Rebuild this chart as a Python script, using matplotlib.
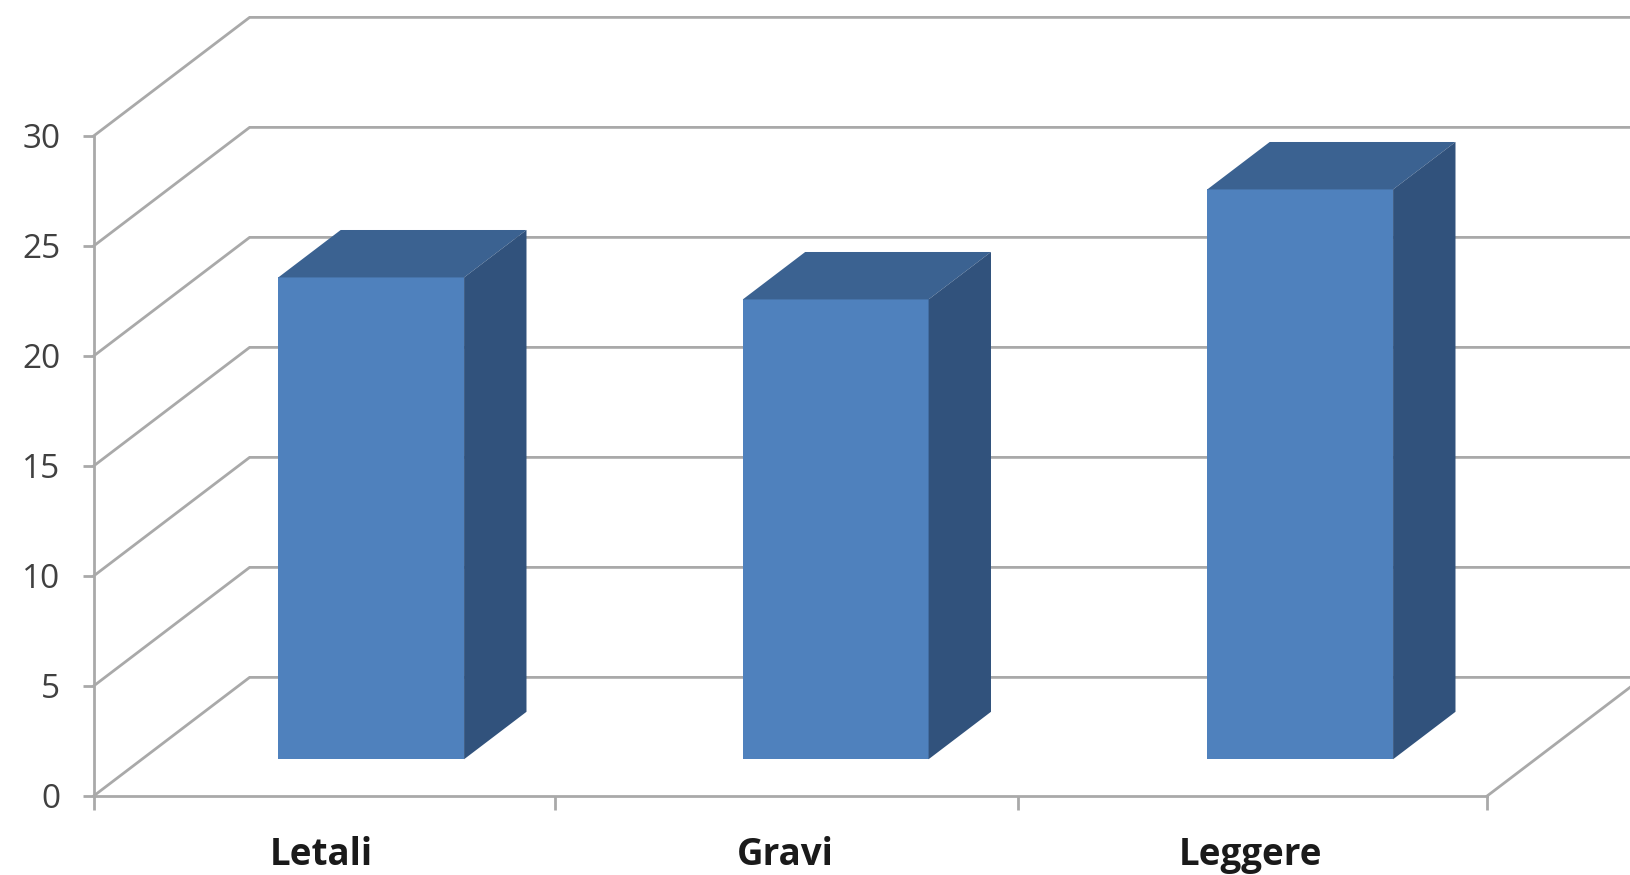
import numpy as np
import matplotlib
matplotlib.use('Agg')
import matplotlib.pyplot as plt

categories = ['Letali', 'Gravi', 'Leggere']
values = [21.9, 20.9, 25.9]
y_ticks = [0, 5, 10, 15, 20, 25, 30]
x_edges = [0, 0.994, 1.99, 3]

W, H = 1631, 875
X0, Y0 = 93.6, 796       # pixel of the origin
PX_X = 464.5             # pixels per category
PX_Y = 22.0              # pixels per value unit

# depth of the fake 3d box, in data units
DX = 156 / PX_X
DY = 118.6 / PX_Y
BAR_W = 0.4
Z0, Z1 = 0.31, 0.71


def proj(x, y, z):
    return x + z * DX, y + z * DY


fig = plt.figure(figsize=(W / 100, H / 100), dpi=100, facecolor='white')
ax = fig.add_axes([0, 0, 1, 1])
ax.set_xlim(-X0 / PX_X, (W - X0) / PX_X)
ax.set_ylim(-(H - Y0) / PX_Y, Y0 / PX_Y)
ax.patch.set_visible(False)

grid = '#a9a9a9'
lw = 2.0

# side wall and back wall lines
for v in y_ticks:
    x1, y1 = proj(0, v, 1)
    x2, y2 = proj(len(categories), v, 1)
    ax.plot([0, x1, x2], [v, y1, y2], color=grid, lw=lw, solid_joinstyle='miter', zorder=1)

# floor edge on the right
x1, y1 = proj(len(categories), 0, 1)
ax.plot([len(categories), x1], [0, y1], color=grid, lw=lw, zorder=1)

# bars: front with ax.bar, top and side as polygons
pos = np.arange(len(categories)) + 0.2935
fx, fy = proj(pos, 0, Z0)
ax.bar(fx, values, width=BAR_W, bottom=fy, align='edge', color='#4f81bd', linewidth=0, zorder=3)
for p, v in zip(pos, values):
    corners_top = [proj(p, v, Z0), proj(p + BAR_W, v, Z0), proj(p + BAR_W, v, Z1), proj(p, v, Z1)]
    corners_side = [proj(p + BAR_W, 0, Z0), proj(p + BAR_W, v, Z0), proj(p + BAR_W, v, Z1), proj(p + BAR_W, 0, Z1)]
    ax.fill(*zip(*corners_top), color='#3b6291', lw=0, zorder=3)
    ax.fill(*zip(*corners_side), color='#31527c', lw=0, zorder=3)

# axes
for s in ['top', 'right']:
    ax.spines[s].set_visible(False)
ax.spines['left'].set_position(('data', 0))
ax.spines['bottom'].set_position(('data', 0))
ax.spines['left'].set_bounds(0, 30)
ax.spines['bottom'].set_bounds(0, len(categories))
ax.spines['left'].set_color(grid)
ax.spines['bottom'].set_color(grid)
ax.spines['left'].set_linewidth(lw)
ax.spines['bottom'].set_linewidth(lw)

ax.set_yticks(y_ticks)
ax.set_yticklabels([str(v) for v in y_ticks], family='Open Sans', fontsize=24, color='#404040')
ax.tick_params(axis='y', length=8, width=lw, color=grid, pad=16)

ax.set_xticks(x_edges)
ax.set_xticklabels([])
ax.set_xticks(np.arange(len(categories)) + 0.49, minor=True)
ax.set_xticklabels(categories, minor=True, family='Open Sans', fontweight='bold', fontsize=26.5, color='#1a1a1a')
ax.tick_params(axis='x', which='major', length=10, width=lw, color=grid)
ax.tick_params(axis='x', which='minor', length=0, pad=29)

fig.savefig('out.png', dpi=100)
